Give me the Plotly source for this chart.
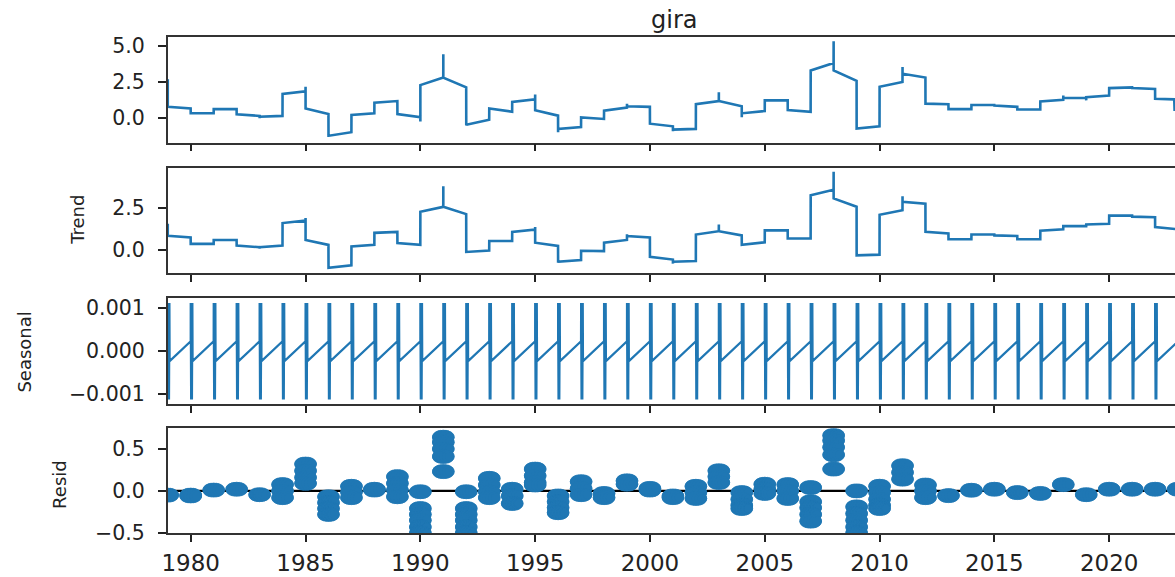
import pandas as pd
import plotly.graph_objects as go

# ---------------- data ----------------
years = list(range(1979, 2023))

obs_start = [0.79, 0.34, 0.63, 0.27, 0.11, 1.69, 0.68, -1.22, 0.23, 1.08,
             0.29, 2.30, 2.82, -0.45, 0.68, 1.13, 0.56, -0.74, 0.05, 0.52,
             0.83, -0.38, -0.79, 0.97, 1.19, 0.34, 1.24, 0.56, 3.31, 3.31,
             -0.72, 2.18, 3.09, 1.01, 0.63, 0.92, 0.88, 0.61, 1.17, 1.40,
             1.46, 2.09, 2.09, 1.35]
obs_end = [0.68, 0.34, 0.63, 0.16, 0.16, 1.87, 0.29, -0.97, 0.34, 1.19,
           0.07, 2.82, 2.14, -0.11, 0.45, 1.31, 0.18, -0.61, -0.05, 0.74,
           0.79, -0.56, -0.74, 1.19, 0.83, 0.50, 1.24, 0.45, 3.83, 2.59,
           -0.56, 2.52, 2.82, 0.97, 0.63, 0.92, 0.79, 0.61, 1.28, 1.40,
           1.58, 2.14, 2.03, 1.31]
obs_spike = {1979: 2.70, 1983: 0.00, 1985: 2.18, 1986: -1.30, 1990: -0.23,
             1991: 4.44, 1992: -0.50, 1995: 1.64, 1996: -0.97, 1999: 1.00,
             2001: -0.90, 2003: 1.80, 2004: 0.07, 2008: 5.34, 2011: 3.56,
             2018: 1.58, 2019: 1.24}
obs_tail_date = "2022-11-01"
obs_tail_value = 0.50

trend_start = [0.85, 0.37, 0.60, 0.27, 0.17, 1.60, 0.60, -1.04, 0.21, 1.02,
               0.41, 2.27, 2.56, -0.11, 0.54, 1.08, 0.44, -0.69, -0.04, 0.44,
               0.83, -0.40, -0.69, 0.92, 1.12, 0.31, 1.17, 0.69, 3.25, 3.06,
               -0.31, 2.09, 2.86, 1.08, 0.64, 0.92, 0.87, 0.64, 1.14, 1.42,
               1.52, 2.04, 1.98, 1.36]
trend_end = [0.75, 0.37, 0.60, 0.17, 0.27, 1.75, 0.31, -0.90, 0.31, 1.08,
             0.31, 2.56, 2.13, -0.02, 0.54, 1.21, 0.25, -0.59, -0.06, 0.60,
             0.75, -0.56, -0.65, 1.12, 0.87, 0.46, 1.17, 0.69, 3.57, 2.57,
             -0.27, 2.36, 2.75, 0.98, 0.64, 0.92, 0.83, 0.64, 1.23, 1.42,
             1.56, 2.04, 1.94, 1.23]
trend_spike = {1979: 1.56, 1983: 0.08, 1985: 1.90, 1991: 3.77, 1995: 1.36,
               1996: -0.75, 1999: 0.94, 2001: -0.80, 2003: 1.52, 2008: 4.63,
               2011: 3.19}

# one year of the (periodic) seasonal component: phase in year, value
seasonal_phase = [0.000, 0.018, 0.036, 0.054, 0.072, 0.082, 0.999]
seasonal_value = [0.00112, -0.00112, 0.00112, -0.00112, 0.00112, -0.00023, 0.00023]

resid_years = list(range(1979, 2024))
resid_values = [
    [-0.05], [-0.05, -0.06], [0.01], [0.02], [-0.045],
    [0.075, 0.0, -0.08], [0.32, 0.24, 0.16, 0.09], [-0.07, -0.14, -0.21, -0.28],
    [0.055, -0.015, -0.08], [0.01, 0.02], [0.17, 0.09, 0.01, -0.07],
    [-0.01, -0.21, -0.28, -0.35, -0.43, -0.50], [0.64, 0.58, 0.50, 0.41, 0.23],
    [-0.01, -0.21, -0.28, -0.35, -0.43, -0.50], [0.15, 0.07, -0.01, -0.08],
    [0.02, -0.06, -0.15], [0.26, 0.18, 0.10, 0.07], [-0.06, -0.13, -0.20, -0.26],
    [0.11, 0.03, -0.045], [-0.03, -0.08], [0.12, 0.08], [0.01, 0.03],
    [-0.06, -0.08], [0.055, -0.02, -0.09], [0.24, 0.17, 0.10],
    [-0.02, -0.10, -0.17, -0.21], [0.08, 0.02, -0.03], [0.075, 0.0, -0.09],
    [0.04, -0.13, -0.20, -0.28, -0.36], [0.66, 0.60, 0.52, 0.43, 0.26],
    [0.0, -0.19, -0.27, -0.35, -0.43, -0.50], [0.056, -0.02, -0.10, -0.17, -0.21],
    [0.30, 0.22, 0.14], [0.07, 0.0, -0.08], [-0.056], [0.008], [0.02],
    [-0.02], [-0.03], [0.075], [-0.045], [0.02], [0.02], [0.02], [0.02],
]

tick_years = [1980, 1985, 1990, 1995, 2000, 2005, 2010, 2015, 2020]
tick_labels = [str(y) for y in tick_years]

# ---------------- build series ----------------
def step_path(starts, ends, spikes, tail=None):
    xs, ys = [], []
    for i, yr in enumerate(years):
        t0 = pd.Timestamp(f"{yr}-01-01")
        t1 = pd.Timestamp(f"{yr}-12-31")
        if yr in spikes:
            xs.append(t0); ys.append(spikes[yr])
        xs.append(t0); ys.append(starts[i])
        if tail is not None and i == len(years) - 1:
            td = pd.Timestamp(tail[0])
            xs.append(td); ys.append(ends[i])
            xs.append(td + pd.Timedelta(days=6)); ys.append(tail[1])
        else:
            xs.append(t1); ys.append(ends[i])
    return xs, ys

obs_x, obs_y = step_path(obs_start, obs_end, obs_spike, (obs_tail_date, obs_tail_value))
tr_x, tr_y = step_path(trend_start, trend_end, trend_spike)

se_x, se_y = [], []
for yr in years:
    t0 = pd.Timestamp(f"{yr}-01-01")
    for ph, v in zip(seasonal_phase, seasonal_value):
        se_x.append(t0 + pd.Timedelta(days=ph * 365.0)); se_y.append(v)

# each resid dot is drawn as a horizontally stretched ellipse (the reference figure is stretched)
blob_offsets_days = [-100, -76, -42, 0, 42, 76, 100]
blob_sizes = [9.0, 12.0, 13.6, 14.0, 13.6, 12.0, 9.0]
rx, ry, rs = [], [], []
for yr, vals in zip(resid_years, resid_values):
    t0 = pd.Timestamp(f"{yr}-01-01")
    for v in vals:
        for off, sz in zip(blob_offsets_days, blob_sizes):
            rx.append(t0 + pd.Timedelta(days=off)); ry.append(v); rs.append(sz)

# ---------------- figure ----------------
W, H = 1175, 577
BLUE = "#1f77b4"
FONT = "DejaVu Sans"
x_dom = [162.6 / W, 1.0]

def ydom(top_px, bot_px):
    return [1 - bot_px / H, 1 - top_px / H]

fig = go.Figure()
fig.add_trace(go.Scatter(x=obs_x, y=obs_y, mode="lines", line=dict(color=BLUE, width=2.6),
                         xaxis="x", yaxis="y", showlegend=False))
fig.add_trace(go.Scatter(x=tr_x, y=tr_y, mode="lines", line=dict(color=BLUE, width=2.6),
                         xaxis="x2", yaxis="y2", showlegend=False))
fig.add_trace(go.Scatter(x=se_x, y=se_y, mode="lines", line=dict(color=BLUE, width=2.2),
                         xaxis="x3", yaxis="y3", showlegend=False))
fig.add_trace(go.Scatter(x=[pd.Timestamp("1978-06-01"), pd.Timestamp("2023-06-01")], y=[0, 0],
                         mode="lines", line=dict(color="#000000", width=2.4),
                         xaxis="x4", yaxis="y4", showlegend=False))
fig.add_trace(go.Scatter(x=rx, y=ry, mode="markers",
                         marker=dict(color=BLUE, size=rs, opacity=1,
                                     line=dict(width=0.8, color=BLUE)),
                         xaxis="x4", yaxis="y4", showlegend=False))

x_range = ["1979-01-01", "2022-11-13"]
tickvals = [f"{y}-01-01" for y in tick_years]

def xaxis(anchor, show_labels):
    return dict(domain=x_dom, anchor=anchor, type="date", range=x_range,
                tickmode="array", tickvals=tickvals, ticktext=tick_labels,
                showticklabels=show_labels, ticks="outside", ticklen=7, tickwidth=1.6,
                tickcolor="#222", showline=True, linecolor="#333", linewidth=1.8,
                mirror=True, showgrid=False, zeroline=False,
                tickfont=dict(family=FONT, size=23, color="#222"), ticklabelstandoff=1)

def yaxis(anchor, dom, rng, tv, tt):
    return dict(domain=dom, anchor=anchor, range=rng, tickmode="array",
                tickvals=tv, ticktext=tt, ticks="outside", ticklen=8, tickwidth=1.6,
                tickcolor="#222", showline=True, linecolor="#333", linewidth=1.8,
                mirror=False, showgrid=False, zeroline=False,
                tickfont=dict(family=FONT, size=20.5, color="#222"), ticklabelstandoff=9)

fig.update_layout(
    width=W, height=H, margin=dict(l=0, r=0, t=0, b=0),
    paper_bgcolor="white", plot_bgcolor="white",
    xaxis=xaxis("y", False), xaxis2=xaxis("y2", False),
    xaxis3=xaxis("y3", False), xaxis4=xaxis("y4", True),
    yaxis=yaxis("x", ydom(35, 143.3), [-1.69, 5.63], [0, 2.5, 5.0], ["0.0", "2.5", "5.0"]),
    yaxis2=yaxis("x2", ydom(169, 277.3), [-1.36, 4.88], [0, 2.5], ["0.0", "2.5"]),
    yaxis3=yaxis("x3", ydom(303.3, 411.7), [-0.001226, 0.001226], [-0.001, 0, 0.001],
                 ["\u22120.001", "0.000", "0.001"]),
    yaxis4=yaxis("x4", ydom(436.7, 544.3), [-0.503, 0.745], [-0.5, 0, 0.5],
                 ["\u22120.5", "0.0", "0.5"]),
    showlegend=False,
)

annos = [
    dict(text="gira", x=0.5 * (x_dom[0] + 1.0), y=1 - 17 / H, xref="paper", yref="paper",
         showarrow=False, font=dict(family=FONT, size=24, color="#222"),
         xanchor="center", yanchor="middle", xshift=3),
    dict(text="Trend", x=72 / W, y=1 - 223 / H, textangle=-90),
    dict(text="Seasonal", x=19 / W, y=1 - 358 / H, textangle=-90),
    dict(text="Resid", x=53 / W, y=1 - 494 / H, textangle=-90),
]
for a in annos[1:]:
    a.update(xref="paper", yref="paper", showarrow=False, xanchor="center", yanchor="middle",
             font=dict(family=FONT, size=18, color="#222"))
fig.update_layout(annotations=annos)

fig.write_html("out.html")
